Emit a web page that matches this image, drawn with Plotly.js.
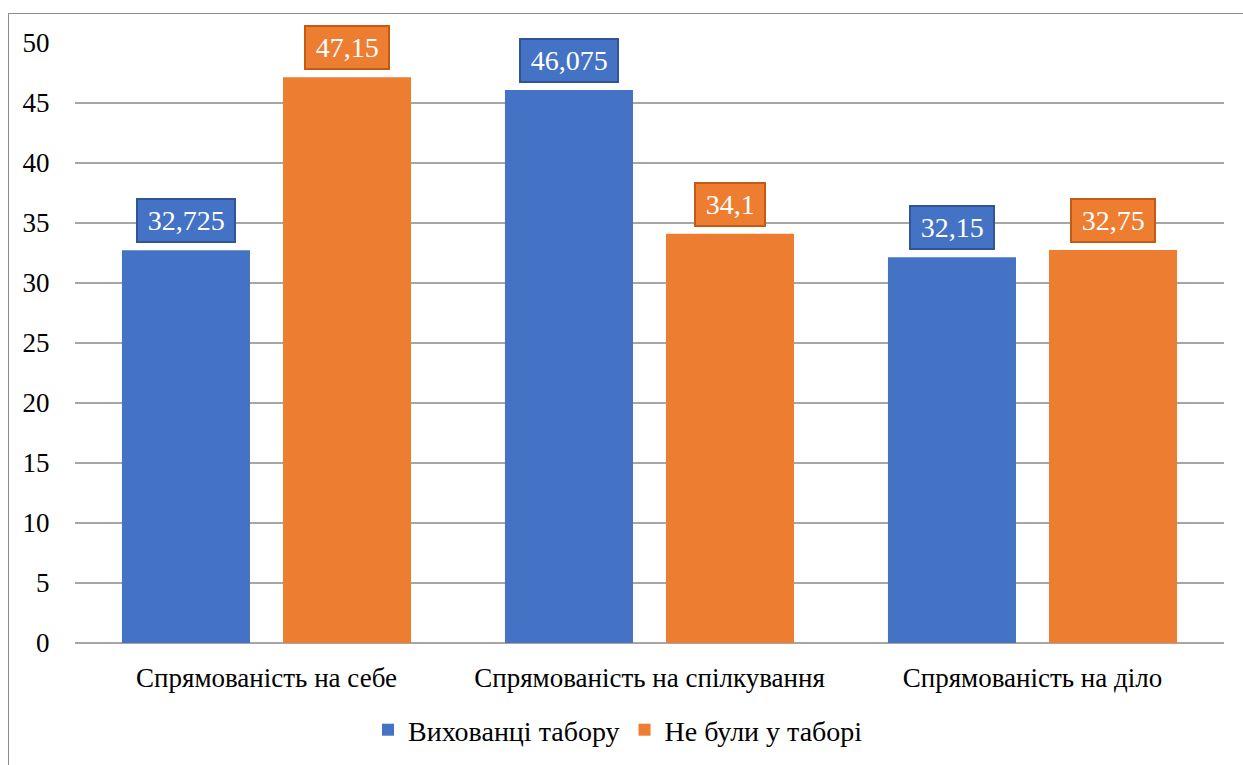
<!DOCTYPE html>
<html><head><meta charset="utf-8">
<script src="https://cdn.plot.ly/plotly-3.0.1.min.js"></script>
<style>
html,body{margin:0;padding:0;background:#fff;overflow:hidden}
#frame{position:absolute;left:8px;top:13px;width:1300px;height:800px;border-left:1.5px solid #8c8c8c;border-top:1.5px solid #8c8c8c;pointer-events:none;z-index:2}
#chart{position:absolute;left:0;top:0;width:1243px;height:765px}
</style></head>
<body>
<div id="chart"></div>
<div id="frame"></div>
<script>
const categories = ["Спрямованість на себе", "Спрямованість на спілкування", "Спрямованість на діло"];
const seriesNames = ["Вихованці табору", "Не були у таборі"];
const campValues = [32.725, 46.075, 32.15];
const noCampValues = [47.15, 34.1, 32.75];
const campLabels = ["32,725", "46,075", "32,15"];
const noCampLabels = ["47,15", "34,1", "32,75"];
const yTicks = [0, 5, 10, 15, 20, 25, 30, 35, 40, 45, 50];

const colors = ["#4472C4", "#ED7D31"];
const borders = ["#2F5597", "#C55A11"];
const FONT = "'Times New Roman', 'Liberation Serif', 'DejaVu Serif', serif";

const bargap = 0.159, bargroupgap = 0.205;
const slot = (1 - bargap) / 2;
const offs = [-slot / 2, slot / 2];
const PAD = "\u2006";

const traces = [campValues, noCampValues].map((vals, i) => ({
  type: "bar",
  name: seriesNames[i],
  x: categories,
  y: vals,
  marker: {color: colors[i]},
  hoverinfo: "none"
}));

const annotations = [];
[[campValues, campLabels], [noCampValues, noCampLabels]].forEach(([vals, labs], s) => {
  vals.forEach((v, k) => {
    annotations.push({
      xref: "x", yref: "y", x: k + offs[s], y: v,
      text: PAD + labs[k] + PAD, showarrow: false,
      xanchor: "center", yanchor: "bottom", yshift: 7,
      font: {family: FONT, size: 28, color: "#ffffff"},
      bgcolor: colors[s], bordercolor: borders[s], borderwidth: 2, borderpad: 5
    });
  });
});

const layout = {
  width: 1243, height: 765,
  margin: {l: 75, r: 19, t: 43, b: 122, autoexpand: false},
  paper_bgcolor: "#ffffff", plot_bgcolor: "#ffffff",
  font: {family: FONT, color: "#000000", size: 27},
  barmode: "group", bargap: bargap, bargroupgap: bargroupgap,
  showlegend: true,
  legend: {orientation: "h", x: 0.4726, xanchor: "center", y: -0.145, yanchor: "middle",
           font: {family: FONT, size: 28, color: "#000"}, itemwidth: 30, traceorder: "normal"},
  xaxis: {type: "category", showgrid: false, zeroline: false, showline: false,
          ticks: "outside", ticklen: 11, tickcolor: "rgba(0,0,0,0)",
          tickfont: {family: FONT, size: 27, color: "#000"}},
  yaxis: {range: [0, 50], tickvals: yTicks, ticktext: yTicks.map(String),
          showgrid: true, gridcolor: "#a6a6a6", gridwidth: 1.2, zeroline: true, zerolinecolor: "#a6a6a6", zerolinewidth: 1.2,
          showline: false, ticks: "outside", ticklen: 19, tickcolor: "rgba(0,0,0,0)",
          tickfont: {family: FONT, size: 27, color: "#000"}},
  annotations: annotations
};

Plotly.newPlot("chart", traces, layout, {staticPlot: true, displayModeBar: false});
</script>
</body></html>
